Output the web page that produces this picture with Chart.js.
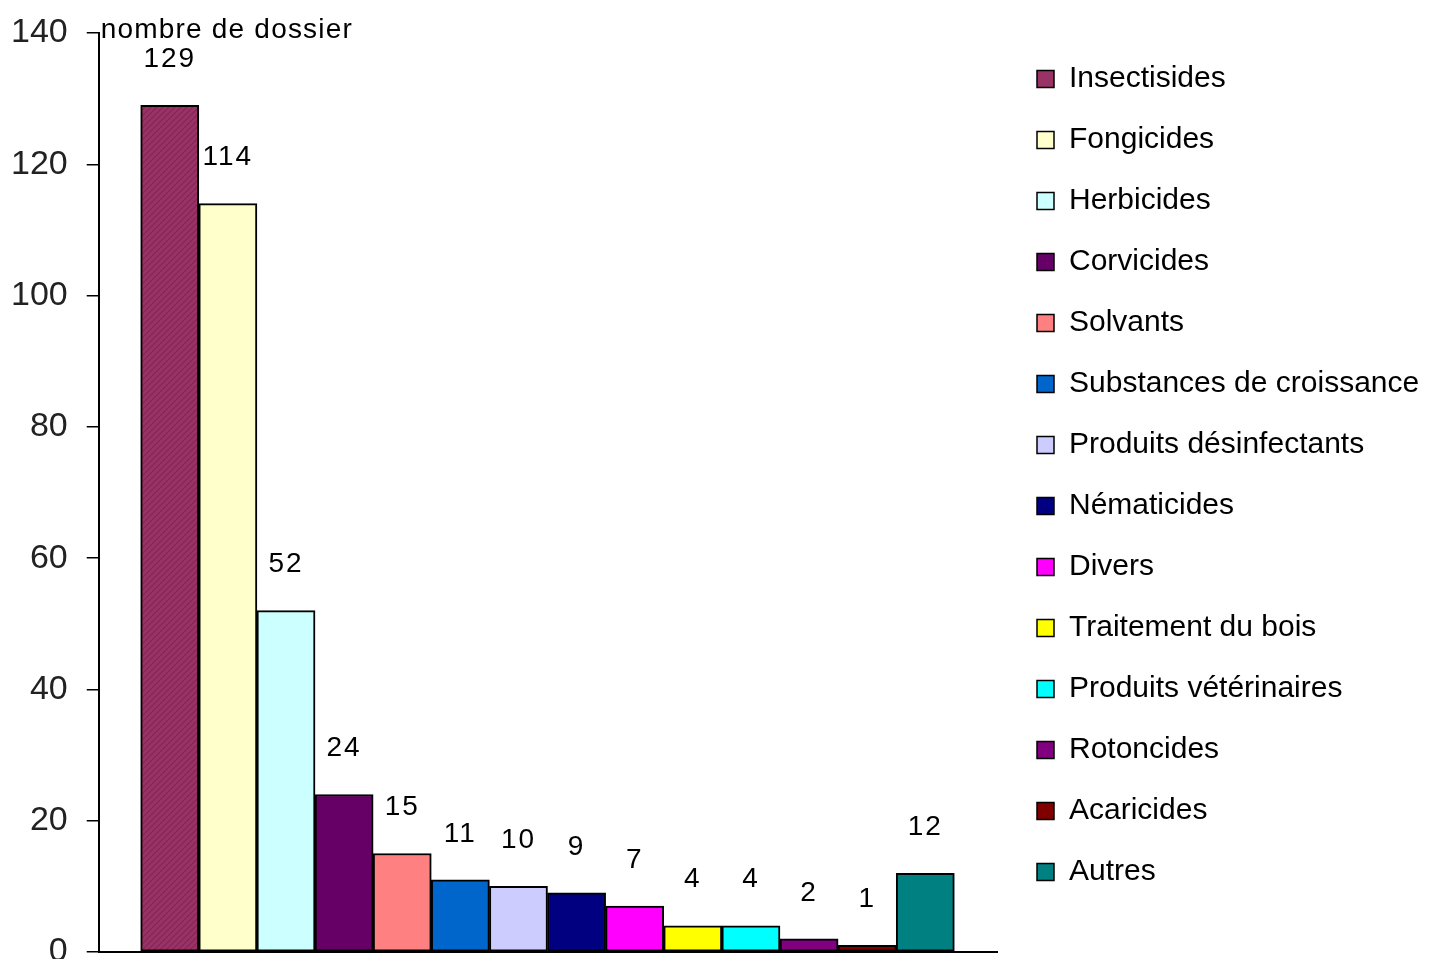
<!DOCTYPE html>
<html>
<head>
<meta charset="utf-8">
<script src="https://cdn.jsdelivr.net/npm/chart.js@4.4.1/dist/chart.umd.min.js"></script>
<style>
  html, body { margin: 0; padding: 0; background: #fff; }
  #wrap { width: 1436px; height: 959px; }
</style>
</head>
<body>
<div id="wrap"><canvas id="myChart"></canvas></div>
<script>
const categories = [
  'Insectisides', 'Fongicides', 'Herbicides', 'Corvicides', 'Solvants',
  'Substances de croissance', 'Produits désinfectants', 'Nématicides', 'Divers',
  'Traitement du bois', 'Produits vétérinaires', 'Rotoncides', 'Acaricides', 'Autres'
];
const dossiers = [129, 114, 52, 24, 15, 11, 10, 9, 7, 4, 4, 2, 1, 12];
const couleurs = [
  '#993366', '#FFFFCC', '#CCFFFF', '#660066', '#FF8080', '#0066CC', '#CCCCFF',
  '#000080', '#FF00FF', '#FFFF00', '#00FFFF', '#800080', '#800000', '#008080'
];
const yTicks = [0, 20, 40, 60, 80, 100, 120, 140];
const axisTitle = 'nombre de dossier';

const FONT = "'Liberation Sans', Arial, sans-serif";
const LEGEND_WIDTH = 430;

// faint diagonal hatching used on the first bar
function hatch(base, line) {
  const c = document.createElement('canvas');
  c.width = 6; c.height = 6;
  const g = c.getContext('2d');
  g.fillStyle = base;
  g.fillRect(0, 0, 6, 6);
  g.strokeStyle = line;
  g.lineWidth = 1.2;
  g.beginPath();
  g.moveTo(0, 6); g.lineTo(6, 0);
  g.moveTo(-1, 1); g.lineTo(1, -1);
  g.moveTo(5, 7); g.lineTo(7, 5);
  g.stroke();
  return g.createPattern(c, 'repeat');
}
const barFills = couleurs.map((c, i) => i === 0 ? hatch(c, '#862655') : c);

// numbers written above each bar
const valueLabels = {
  id: 'valueLabels',
  afterDatasetsDraw(chart) {
    const ctx = chart.ctx;
    const meta = chart.getDatasetMeta(0);
    ctx.save();
    ctx.font = '28px ' + FONT;
    ctx.letterSpacing = '2px';
    ctx.fillStyle = '#000';
    ctx.textAlign = 'center';
    ctx.textBaseline = 'middle';
    meta.data.forEach((bar, i) => {
      ctx.fillText(String(dossiers[i]), bar.x, bar.y - 46);
    });
    ctx.restore();
  }
};

// axis caption at the top of the y axis
const yCaption = {
  id: 'yCaption',
  afterDraw(chart) {
    const ctx = chart.ctx;
    const area = chart.chartArea;
    ctx.save();
    ctx.font = '28px ' + FONT;
    ctx.letterSpacing = '1.2px';
    ctx.fillStyle = '#000';
    ctx.textAlign = 'left';
    ctx.textBaseline = 'alphabetic';
    ctx.fillText(axisTitle, area.left + 2, area.top + 5);
    ctx.restore();
  }
};

// give the side legend a fixed width instead of the layout's cap
const wideLegend = {
  id: 'wideLegend',
  beforeLayout(chart) {
    const legend = chart.legend;
    if (!legend || legend._wide) return;
    const fit = legend.fit;
    legend.fit = function () {
      fit.call(this);
      this.width = LEGEND_WIDTH;
    };
    legend._wide = true;
  }
};

const ctx = document.getElementById('myChart');
new Chart(ctx, {
  type: 'bar',
  data: {
    datasets: [{
      label: axisTitle,
      data: dossiers.map((v, i) => ({ x: i, y: v })),
      backgroundColor: barFills,
      borderColor: '#000',
      borderWidth: 2,
      borderSkipped: false,
      barPercentage: 1,
      categoryPercentage: 1
    }]
  },
  options: {
    responsive: true,
    maintainAspectRatio: false,
    animation: false,
    layout: { padding: { top: 33, left: 11, bottom: 7, right: 0 } },
    scales: {
      x: {
        type: 'linear',
        offset: false,
        min: -1.222,
        max: 14.234,
        ticks: { display: false },
        grid: { display: false, drawTicks: false },
        border: { display: true, color: '#000', width: 2 }
      },
      y: {
        min: 0,
        max: 140,
        afterBuildTicks(scale) {
          scale.ticks = yTicks.map(v => ({ value: v }));
        },
        ticks: {
          color: '#222',
          padding: 0,
          font: { family: FONT, size: 34, lineHeight: 0.4 }
        },
        grid: {
          drawOnChartArea: false,
          drawTicks: true,
          tickLength: 31,
          tickBorderDash: [0, 19, 12, 100],
          color: '#000',
          lineWidth: 1.5
        },
        border: { display: true, color: '#000', width: 2 }
      },
      // thin spacer between the plot and the legend
      gap: {
        type: 'linear',
        position: 'right',
        display: true,
        ticks: { display: false },
        grid: { display: false, drawTicks: false },
        border: { display: false },
        afterFit(scale) { scale.width = 9; }
      }
    },
    plugins: {
      tooltip: { enabled: false },
      legend: {
        position: 'right',
        align: 'start',
        onClick: null,
        labels: {
          boxWidth: 17,
          boxHeight: 17,
          padding: 31,
          color: '#000',
          font: { family: FONT, size: 30 },
          generateLabels: () => categories.map((c, i) => ({
            text: c,
            fillStyle: couleurs[i],
            strokeStyle: '#000',
            lineWidth: 1.5,
            hidden: false,
            index: i,
            datasetIndex: 0
          }))
        }
      }
    }
  },
  plugins: [valueLabels, yCaption, wideLegend]
});
</script>
</body>
</html>
